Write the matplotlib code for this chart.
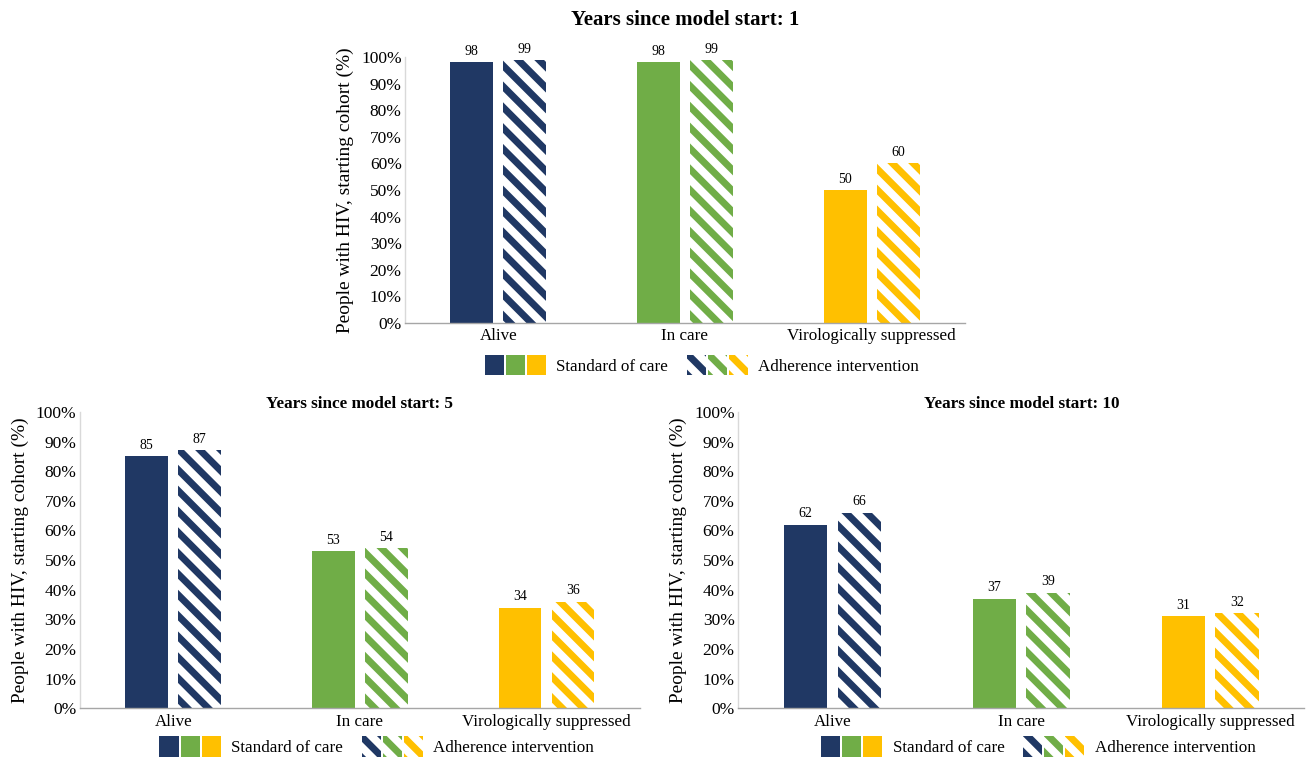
import matplotlib.pyplot as plt
from matplotlib.patches import Patch
from matplotlib.legend_handler import HandlerTuple
import numpy as np

plt.rcParams['font.family'] = ['Liberation Serif', 'DejaVu Serif']
plt.rcParams['hatch.linewidth'] = 4.0

categories = ['Alive', 'In care', 'Virologically suppressed']
colors = ['#203864', '#70AD47', '#FFC000']

# percent of starting cohort, standard of care vs adherence intervention
soc_year1 = [98, 98, 50]
adh_year1 = [99, 99, 60]
soc_year5 = [85, 53, 34]
adh_year5 = [87, 54, 36]
soc_year10 = [62, 37, 31]
adh_year10 = [66, 39, 32]

DPI = 125
fig = plt.figure(figsize=(1311 / DPI, 760 / DPI), dpi=DPI)

ax1 = fig.add_axes([0.309, 0.575, 0.427, 0.350])
ax2 = fig.add_axes([0.061, 0.068, 0.427, 0.390])
ax3 = fig.add_axes([0.563, 0.068, 0.432, 0.390])

HATCH = '\\\\'


def draw_panel(ax, soc, adh, year, title_size, title_pad, legend_y):
    x = np.arange(len(categories))
    w = 0.23
    off = 0.142
    for i in range(len(categories)):
        ax.bar(x[i] - off, soc[i], w, color=colors[i], linewidth=0)
        ax.bar(x[i] + off, adh[i], w, facecolor='white', edgecolor=colors[i],
               hatch=HATCH, linewidth=0)
        ax.text(x[i] - off, soc[i] + 1.5, str(soc[i]), ha='center', va='bottom', fontsize=8)
        ax.text(x[i] + off, adh[i] + 1.5, str(adh[i]), ha='center', va='bottom', fontsize=8)
    ax.set_xlim(-0.5, 2.5)
    ax.set_ylim(0, 100)
    ax.set_xticks(x)
    ax.set_xticklabels(categories, fontsize=9.8)
    ax.set_yticks(range(0, 101, 10))
    ax.set_yticklabels([f'{v}%' for v in range(0, 101, 10)], fontsize=10)
    ax.tick_params(length=0, pad=2)
    ax.tick_params(axis='x', pad=3)
    for s in ['top', 'right']:
        ax.spines[s].set_visible(False)
    ax.spines['left'].set_color('#d9d9d9')
    ax.spines['bottom'].set_color('#a6a6a6')
    ax.set_ylabel('People with HIV, starting cohort (%)', fontsize=11.2, labelpad=4)
    ax.set_title(f'Years since model start: {year}', fontsize=title_size, fontweight='bold',
                 pad=title_pad)

    soc_h = tuple(Patch(facecolor=c, linewidth=0) for c in colors)
    adh_h = tuple(Patch(facecolor='white', edgecolor=c, hatch=HATCH, linewidth=0) for c in colors)
    ax.legend([soc_h, adh_h], ['Standard of care', 'Adherence intervention'],
              handler_map={tuple: HandlerTuple(ndivide=None, pad=0.12)},
              loc='center', bbox_to_anchor=(0.53, legend_y), ncol=2, frameon=False,
              fontsize=9.8, handlelength=3.6, handleheight=1.5, handletextpad=0.6,
              columnspacing=1.1)


draw_panel(ax1, soc_year1, adh_year1, 1, 12, 18.5, -0.158)
draw_panel(ax2, soc_year5, adh_year5, 5, 9.9, 1, -0.128)
draw_panel(ax3, soc_year10, adh_year10, 10, 9.9, 1, -0.128)

fig.savefig('out.png', dpi=DPI)
